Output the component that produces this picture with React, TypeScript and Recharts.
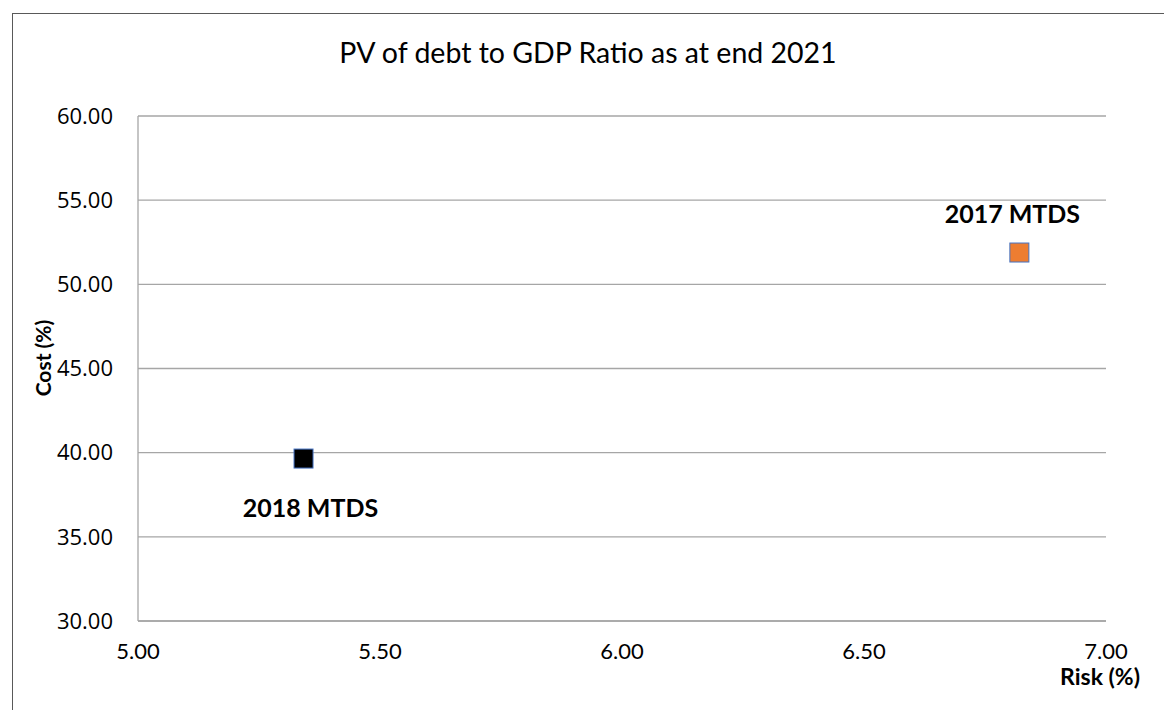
import React from 'react';
import { ScatterChart, Scatter, XAxis, YAxis, CartesianGrid, LabelList } from 'recharts';

const seriesNames = ['2018 MTDS', '2017 MTDS'];
const riskValues = [5.342, 6.821];
const costValues = [39.65, 51.89];
const seriesColors = ['#000000', '#ED7D31'];
const xTicks = [5.0, 5.5, 6.0, 6.5, 7.0];
const yTicks = [30, 35, 40, 45, 50, 55, 60];

const series = seriesNames.map((name, i) => ({
  name,
  color: seriesColors[i],
  data: [{ x: riskValues[i], y: costValues[i], label: name }],
}));

const labelFont = 'Lato, "Open Sans", sans-serif';

const Square = (props: any) => {
  const { cx, cy, fill } = props;
  const s = 19;
  return <rect x={cx - s / 2} y={cy - s / 2} width={s} height={s} fill={fill} stroke="#4472C4" strokeWidth={1} />;
};

const makeLabel = (dx: number, dy: number) => (props: any) => {
  const { x, y, width, height, value } = props;
  const cx = x + (width || 0) / 2;
  const cy = y + (height || 0) / 2;
  return (
    <text x={cx + dx} y={cy + dy} textAnchor="middle" fontFamily={labelFont} fontWeight={700} fontSize={25} fill="#000">
      {value}
    </text>
  );
};

export default function App() {
  return (
    <div style={{ position: 'absolute', left: 0, top: 0, width: 1164, height: 710, background: '#fff', overflow: 'hidden' }}>
      <div style={{ position: 'absolute', left: 12, top: 13, width: 1200, height: 800, border: '1px solid #595959' }} />
      <div
        style={{
          position: 'absolute',
          left: 0,
          top: 36,
          width: 1164,
          textAlign: 'center',
          fontFamily: labelFont,
          fontSize: 28.5,
          color: '#000',
          lineHeight: '32px',
        }}
      >
        <span style={{ position: 'relative', left: 6 }}>PV of debt to GDP Ratio as at end 2021</span>
      </div>
      <div style={{ position: 'absolute', left: 0, top: 0 }}>
        <ScatterChart width={1164} height={710} margin={{ top: 116, right: 58, bottom: 0, left: 0 }}>
          <CartesianGrid vertical={false} stroke="#A6A6A6" strokeWidth={1.3} />
          <XAxis
            type="number"
            dataKey="x"
            domain={[5, 7]}
            ticks={xTicks}
            tickFormatter={(v: number) => v.toFixed(2)}
            height={89}
            tickLine={false}
            tickSize={0}
            tickMargin={22}
            axisLine={{ stroke: '#A6A6A6', strokeWidth: 1.3 }}
            tick={{ fill: '#000', fontSize: 22, fontFamily: labelFont }}
            allowDataOverflow
            label={(p: any) => {
              const vb = p.viewBox;
              return (
                <text x={vb.x + vb.width + 34} y={vb.y + 64} textAnchor="end" fontFamily={labelFont} fontWeight={700} fontSize={23} fill="#000">
                  Risk (%)
                </text>
              );
            }}
          />
          <YAxis
            type="number"
            dataKey="y"
            domain={[30, 60]}
            ticks={yTicks}
            tickFormatter={(v: number) => v.toFixed(2)}
            width={138}
            tickLine={false}
            tickSize={0}
            tickMargin={25}
            axisLine={{ stroke: '#A6A6A6', strokeWidth: 1.3 }}
            tick={{ fill: '#000', fontSize: 22, fontFamily: '"Open Sans", sans-serif' }}
            allowDataOverflow
            label={(p: any) => {
              const x = 42;
              const y = 358;
              return (
                <text x={x} y={y} transform={`rotate(-90 ${x} ${y})`} textAnchor="middle" dominantBaseline="central" fontFamily={labelFont} fontWeight={700} fontSize={21} fill="#000">
                  Cost (%)
                </text>
              );
            }}
          />
          {series.map((s, i) => (
            <Scatter key={s.name} name={s.name} data={s.data} fill={s.color} shape={Square} isAnimationActive={false}>
              <LabelList dataKey="label" content={makeLabel(i === 0 ? 7 : -7, i === 0 ? 58 : -30) as any} />
            </Scatter>
          ))}
        </ScatterChart>
      </div>
    </div>
  );
}
